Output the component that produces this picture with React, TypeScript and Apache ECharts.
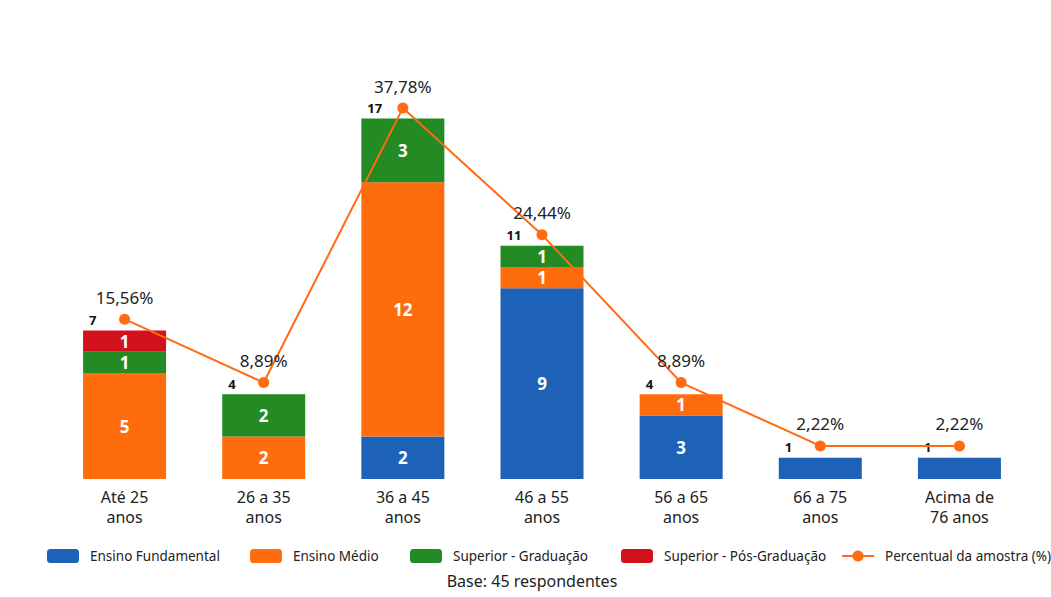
import React, { useEffect, useRef } from "react";
import * as echarts from "echarts";

const categories = [
  "Até 25\nanos",
  "26 a 35\nanos",
  "36 a 45\nanos",
  "46 a 55\nanos",
  "56 a 65\nanos",
  "66 a 75\nanos",
  "Acima de\n76 anos",
];
const ensinoFundamental = [0, 0, 2, 9, 3, 1, 1];
const ensinoMedio = [5, 2, 12, 1, 1, 0, 0];
const superiorGraduacao = [1, 2, 3, 1, 0, 0, 0];
const superiorPos = [1, 0, 0, 0, 0, 0, 0];
const totals = [7, 4, 17, 11, 4, 1, 1];
const percentual = [15.56, 8.89, 37.78, 24.44, 8.89, 2.22, 2.22];

const legendNames = [
  "Ensino Fundamental",
  "Ensino Médio",
  "Superior - Graduação",
  "Superior - Pós-Graduação",
  "Percentual da amostra (%)",
];
const legendLefts = [42, 245, 405, 616, 836];

const FONT = "'Noto Sans', 'Open Sans', sans-serif";
const BAR_W = 83;

// Segment values are written inside the bars, except for the single-respondent stacks
const segLabel = {
  show: true,
  position: "inside",
  color: "#ffffff",
  fontSize: 17,
  fontWeight: "bold",
  fontFamily: FONT,
  formatter: (p: any) =>
    p.value && totals[p.dataIndex] > 1 ? String(p.value) : "",
};

function stacked(name: string, data: number[], color: string) {
  return {
    name,
    type: "bar",
    stack: "total",
    barWidth: BAR_W,
    data,
    itemStyle: { color },
    label: segLabel,
  };
}

export default function App() {
  const ref = useRef<HTMLDivElement>(null);

  useEffect(() => {
    if (!ref.current) return;
    const chart = echarts.init(ref.current, null, { renderer: "svg" });
    chart.setOption({
      animation: false,
      backgroundColor: "#ffffff",
      textStyle: { fontFamily: FONT },
      grid: { left: 55, right: 22, top: 55, bottom: 118 },
      legend: legendNames.map((name, i) => ({
        left: legendLefts[i],
        top: 544,
        width: 600,
        itemWidth: 32,
        itemHeight: 14,
        data: [name],
        textStyle: {
          fontSize: 13.5,
          color: "#222222",
          fontFamily: FONT,
          padding: [0, 0, 0, 6],
        },
      })),
      xAxis: {
        type: "category",
        data: categories,
        axisLine: { show: false },
        axisTick: { show: false },
        axisLabel: {
          color: "#222222",
          fontSize: 16,
          lineHeight: 20,
          margin: 8,
          fontFamily: FONT,
        },
      },
      yAxis: [
        { type: "value", min: 0, max: 20, show: false },
        { type: "value", min: -1.26, max: 43.37, show: false },
      ],
      graphic: [
        {
          type: "text",
          x: 532,
          y: 581,
          style: {
            text: "Base: 45 respondentes",
            fontSize: 16,
            fill: "#222222",
            fontFamily: FONT,
            textAlign: "center",
            textVerticalAlign: "middle",
          },
        },
      ],
      series: [
        stacked("Ensino Fundamental", ensinoFundamental, "#1d62b7"),
        stacked("Ensino Médio", ensinoMedio, "#ff6c0e"),
        stacked("Superior - Graduação", superiorGraduacao, "#238a24"),
        stacked("Superior - Pós-Graduação", superiorPos, "#d2111d"),
        {
          name: "Total",
          type: "bar",
          barWidth: BAR_W,
          barGap: "-100%",
          data: totals,
          itemStyle: { color: "rgba(0,0,0,0)" },
          z: 1,
          label: {
            show: true,
            position: [6, -17],
            color: "#111111",
            fontSize: 13,
            fontWeight: "bold",
            fontFamily: FONT,
          },
        },
        {
          name: "Percentual da amostra (%)",
          type: "line",
          yAxisIndex: 1,
          data: percentual,
          symbol: "circle",
          symbolSize: 11,
          z: 5,
          lineStyle: { color: "#ff6a13", width: 2 },
          itemStyle: { color: "#ff6a13" },
          label: {
            show: true,
            position: "top",
            distance: 8,
            color: "#222222",
            fontSize: 17,
            fontFamily: FONT,
            formatter: (p: any) => p.value.toFixed(2).replace(".", ",") + "%",
          },
        },
      ],
    });
    return () => chart.dispose();
  }, []);

  return (
    <div
      ref={ref}
      style={{ position: "fixed", left: 0, top: 0, width: 1051, height: 597 }}
    />
  );
}
